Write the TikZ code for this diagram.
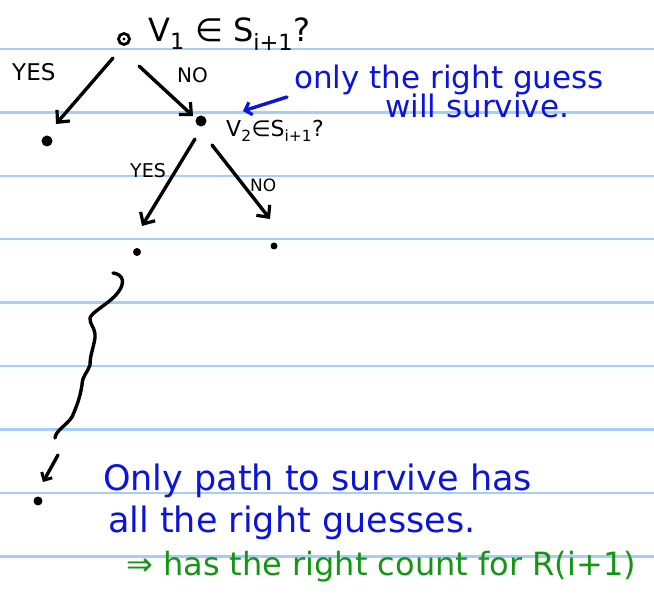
\documentclass[tikz,border=0pt]{standalone}
\usepackage{fontspec}
\setmainfont{DejaVu Sans}
\usetikzlibrary{arrows.meta}
\definecolor{ruled}{RGB}{165,205,245}
\definecolor{inkblue}{RGB}{10,20,220}
\definecolor{inkgreen}{RGB}{20,150,20}
\tikzset{
  ink/.style={line width=3.4pt, line cap=round, line join=round},
  tree/.style={ink, -{Straight Barb[length=9pt,width=17pt,line width=3.2pt]}},
  pt/.style={circle, fill=black, inner sep=0pt, minimum size=7pt},
  lbl/.style={inner sep=0pt, anchor=west},
}
\begin{document}
\begin{tikzpicture}[x=1pt,y=-1pt]
\useasboundingbox (0,0) rectangle (654,599);
\fill[white] (0,0) rectangle (654,599);
% ruled lines
\foreach \yy in {49,112.5,176,239,302.5,366,429.5,493,556.5}
  \draw[ruled, line width=2.4pt] (0,\yy) -- (654,\yy);

% nodes
\node[circle, draw, line width=2.8pt, fill=white, inner sep=0pt, minimum size=11pt] (root) at (124,39) {};
\fill (root) circle (1.6pt);
\node[pt, minimum size=11pt] (leafL) at (47,141) {};
\node[pt, minimum size=11pt] (v2) at (201,121) {};
\node[pt, minimum size=8pt] (v3) at (137,252) {};
\node[pt, minimum size=7pt] (v4) at (274,246) {};
\node[pt, minimum size=9pt] (vend) at (38,501) {};

% labels
\node[lbl, font=\fontsize{32}{34}\selectfont] (q1) at (148,34) {V\textsubscript{1} ∈ S\textsubscript{i+1}?};
\node[lbl, font=\fontsize{22}{24}\selectfont] (q2) at (226,131) {V\textsubscript{2}∈S\textsubscript{i+1}?};
\node[lbl, font=\fontsize{23}{25}\selectfont] (yes1) at (12,72) {YES};
\node[lbl, font=\fontsize{20}{22}\selectfont] (no1) at (177,75) {NO};
\node[lbl, font=\fontsize{19}{21}\selectfont] (yes2) at (130,171) {YES};
\node[lbl, font=\fontsize{17}{19}\selectfont] (no2) at (250,185) {NO};

% tree arrows
\coordinate (a1s) at (113,58); \coordinate (a1e) at (56,124);
\coordinate (a2s) at (139,66); \coordinate (a2e) at (193,116);
\coordinate (a3s) at (195,139); \coordinate (a3e) at (142,226);
\coordinate (a4s) at (212,145); \coordinate (a4e) at (270,219);
\draw[tree] (a1s) -- (a1e);
\draw[tree] (a2s) -- (a2e);
\draw[tree] (a3s) -- (a3e);
\draw[tree] (a4s) -- (a4e);

% wavy path
\draw[ink] (113,273) .. controls (122,274) and (128,282) .. (115,296)
  .. controls (105,306) and (92,312) .. (90,318)
  .. controls (89,324) and (96,328) .. (95,338)
  .. controls (93,350) and (90,355) .. (90,365)
  .. controls (88,372) and (82,376) .. (82,385)
  .. controls (80,398) and (76,408) .. (72,417)
  .. controls (66,426) and (56,430) .. (55,438);
\coordinate (w2s) at (58,455); \coordinate (w2e) at (43,482);
\draw[ink, -{Straight Barb[length=6pt,width=12pt,line width=3pt]}] (w2s) -- (w2e);

% blue notes
\coordinate (bs) at (287,97); \coordinate (be) at (243,111);
\draw[ink, inkblue, -{Straight Barb[length=6pt,width=13pt,line width=3.2pt]}] (bs) -- (be);
\node[lbl, inkblue, font=\fontsize{31}{33}\selectfont] (n1) at (294,80) {only the right guess};
\node[lbl, inkblue, font=\fontsize{31}{33}\selectfont] (n2) at (385,106) {will survive.};

\node[lbl, inkblue, font=\fontsize{35}{37}\selectfont] (t1) at (103,481) {Only path to survive has};
\node[lbl, inkblue, font=\fontsize{35}{37}\selectfont] (t2) at (108,523) {all the right guesses.};
\node[lbl, inkgreen, font=\fontsize{32}{34}\selectfont] (t3) at (126,567) {⇒ has the right count for R(i+1)};
\end{tikzpicture}
\end{document}
